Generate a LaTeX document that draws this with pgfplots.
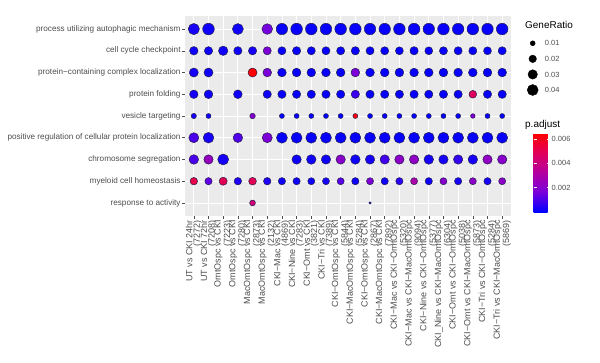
\documentclass[border=0pt]{standalone}
\usepackage{pgfplots}
\pgfplotsset{compat=1.18}
\usepackage{pgfplotstable}
\usepackage{fontspec}
\setmainfont{Liberation Sans}
\definecolor{axgrey}{HTML}{4D4D4D}
\definecolor{panel}{HTML}{EBEBEB}
\definecolor{dotedge}{HTML}{1E1E46}

\pgfplotstableread{
x y r p
1 9 0.042 0.0003
2 9 0.045 0.0002
4 9 0.040 0.0002
6 9 0.038 0.0016
7 9 0.043 0.0001
8 9 0.045 0.0001
9 9 0.045 0.0001
10 9 0.044 0.0001
11 9 0.045 0.0001
12 9 0.045 0.0001
13 9 0.044 0.0001
14 9 0.044 0.0001
15 9 0.045 0.0001
16 9 0.045 0.0001
17 9 0.044 0.0001
18 9 0.045 0.0001
19 9 0.044 0.0001
20 9 0.045 0.0001
21 9 0.044 0.0001
22 9 0.045 0.0001
1 8 0.025 0.0002
2 8 0.024 0.0002
3 8 0.030 0.0002
4 8 0.024 0.0002
5 8 0.024 0.0003
6 8 0.023 0.0018
7 8 0.023 0.0001
8 8 0.024 0.0001
9 8 0.023 0.0001
10 8 0.023 0.0001
11 8 0.023 0.0001
12 8 0.024 0.0001
13 8 0.023 0.0001
14 8 0.023 0.0001
15 8 0.022 0.0001
16 8 0.024 0.0001
17 8 0.022 0.0001
18 8 0.023 0.0001
19 8 0.023 0.0001
20 8 0.023 0.0001
21 8 0.022 0.0001
22 8 0.023 0.0001
1 7 0.028 0.0003
2 7 0.028 0.0002
5 7 0.028 0.0065
6 7 0.026 0.0017
7 7 0.026 0.0001
8 7 0.026 0.0001
9 7 0.026 0.0001
10 7 0.026 0.0001
11 7 0.026 0.0001
12 7 0.026 0.0018
13 7 0.026 0.0001
14 7 0.026 0.0001
15 7 0.026 0.0001
16 7 0.026 0.0001
17 7 0.026 0.0001
18 7 0.026 0.0001
19 7 0.026 0.0001
20 7 0.026 0.0001
21 7 0.026 0.0001
22 7 0.026 0.0001
1 6 0.025 0.0003
2 6 0.026 0.0002
4 6 0.026 0.0002
6 6 0.024 0.0002
7 6 0.024 0.0001
8 6 0.024 0.0001
9 6 0.024 0.0001
10 6 0.024 0.0001
11 6 0.024 0.0001
12 6 0.024 0.0008
13 6 0.024 0.0001
14 6 0.024 0.0001
15 6 0.024 0.0001
16 6 0.024 0.0001
17 6 0.024 0.0001
18 6 0.024 0.0001
19 6 0.024 0.0001
20 6 0.021 0.0048
21 6 0.024 0.0001
22 6 0.024 0.0001
1 5 0.011 0.0003
2 5 0.010 0.0002
5 5 0.012 0.0020
7 5 0.010 0.0001
8 5 0.010 0.0001
9 5 0.010 0.0001
10 5 0.010 0.0001
11 5 0.010 0.0001
12 5 0.010 0.0062
13 5 0.010 0.0001
14 5 0.010 0.0001
15 5 0.010 0.0001
16 5 0.010 0.0001
17 5 0.010 0.0001
18 5 0.010 0.0001
19 5 0.010 0.0001
20 5 0.009 0.0019
21 5 0.010 0.0001
22 5 0.010 0.0001
1 4 0.034 0.0010
2 4 0.038 0.0003
4 4 0.031 0.0011
6 4 0.034 0.0018
7 4 0.040 0.0001
8 4 0.040 0.0001
9 4 0.040 0.0001
10 4 0.040 0.0001
11 4 0.040 0.0001
12 4 0.040 0.0001
13 4 0.040 0.0001
14 4 0.040 0.0001
15 4 0.040 0.0001
16 4 0.040 0.0001
17 4 0.040 0.0001
18 4 0.040 0.0001
19 4 0.040 0.0001
20 4 0.040 0.0001
21 4 0.040 0.0001
22 4 0.040 0.0001
1 3 0.031 0.0010
2 3 0.030 0.0024
3 3 0.040 0.0003
8 3 0.030 0.0002
9 3 0.031 0.0002
10 3 0.030 0.0002
11 3 0.030 0.0021
12 3 0.031 0.0002
13 3 0.030 0.0003
14 3 0.030 0.0009
15 3 0.030 0.0022
16 3 0.030 0.0023
17 3 0.031 0.0003
18 3 0.030 0.0003
19 3 0.030 0.0007
20 3 0.031 0.0003
21 3 0.030 0.0023
22 3 0.030 0.0021
1 2 0.020 0.0052
2 2 0.019 0.0013
3 2 0.023 0.0050
4 2 0.020 0.0004
5 2 0.021 0.0050
6 2 0.020 0.0004
7 2 0.019 0.0002
8 2 0.019 0.0002
9 2 0.018 0.0002
10 2 0.018 0.0003
11 2 0.018 0.0012
12 2 0.019 0.0002
13 2 0.018 0.0018
14 2 0.019 0.0002
15 2 0.019 0.0006
16 2 0.018 0.0030
17 2 0.019 0.0002
18 2 0.018 0.0020
19 2 0.019 0.0003
20 2 0.018 0.0022
21 2 0.019 0.0003
22 2 0.018 0.0022
5 1 0.013 0.0042
13 1 0.004 0.0001
}\dotdata

\begin{document}
\begin{tikzpicture}
\begin{axis}[
  name=main,
  at={(185bp,147bp)}, anchor=south west,
  scale only axis, width=326bp, height=200bp,
  xmin=0.4, xmax=22.6, ymin=0.4, ymax=9.6,
  axis background/.style={fill=panel},
  axis line style={draw=none},
  xtick={1,...,22}, ytick={1,...,9},
  xticklabels={
    {UT vs CKI 24hr\\(7272)},
    {UT vs CKI 72hr\\(7208)},
    {OmtOspc vs CKI\\(7223)},
    {OmtOspc vs CKI\\(7280)},
    {MacOmtOspc vs CKI\\(2873)},
    {MacOmtOspc vs CKI\\(2132)},
    {CKI−Mac vs CKI\\(4869)},
    {CKI−Nine vs CKI\\(7283)},
    {CKI−Omt vs CKI\\(3821)},
    {CKI−Tri vs CKI\\(7389)},
    {CKI−OmtOspc vs CKI\\(5844)},
    {CKI−MacOmtOspc vs CKI\\(5284)},
    {CKI−OmtOspc vs CKI\\(2867)},
    {CKI−MacOmtOspc vs CKI\\(7892)},
    {CKI−Mac vs CKI−OmtOspc\\(5320)},
    {CKI−Mac vs CKI−MacOmtOspc\\(9094)},
    {CKI−Nine vs CKI−OmtOspc\\(5377)},
    {CKI\_Nine vs CKI−MacOmtOspc\\(6304)},
    {CKI−Omt vs CKI−OmtOspc\\(5038)},
    {CKI−Omt vs CKI−MacOmtOspc\\(5873)},
    {CKI−Tri vs CKI−OmtOspc\\(5284)},
    {CKI−Tri vs CKI−MacOmtOspc\\(5869)}},
  yticklabels={response to activity, myeloid cell homeostasis, chromosome segregation,
    positive regulation of cellular protein localization, vesicle targeting, protein folding,
    protein−containing complex localization, cell cycle checkpoint,
    process utilizing autophagic mechanism},
  xmajorgrids, ymajorgrids,
  major grid style={white, line width=0.8pt},
  tick align=outside, major tick length=2.75bp,
  tick style={axgrey, line width=0.5pt},
  xtick pos=bottom, ytick pos=left,
  yticklabel style={font=\fontsize{8.2}{8.2}\selectfont, text=axgrey, inner sep=1.5bp},
  xticklabel style={rotate=90, anchor=east, align=right,
    font=\fontsize{9}{7.5}\selectfont, text=axgrey, inner sep=1.5bp},
  colormap={gg}{rgb255(0cm)=(0,0,255); rgb255(1cm)=(120,0,220); rgb255(2cm)=(180,0,160); rgb255(3cm)=(225,0,90); rgb255(4cm)=(255,0,0)},
  point meta min=0, point meta max=0.0065,
  colorbar,
  colorbar style={
    at={(parent axis.north east)}, anchor=north west,
    xshift=14bp, yshift=-117bp,
    scale only axis, width=16bp, height=79bp,
    axis line style={draw=none},
    ytick={0.002,0.004,0.006},
    scaled y ticks=false,
    ytick pos=both, yticklabel pos=right,
    tick align=inside, major tick length=3bp,
    tick style={white, line width=0.6pt},
    yticklabel style={font=\fontsize{7.5}{7.5}\selectfont, text=axgrey, inner sep=2bp,
      /pgf/number format/.cd, fixed, fixed zerofill, precision=3, assume math mode=true},
  },
  clip=false,
]
\addplot[scatter, only marks, mark=*, point meta=explicit,
  scatter/use mapped color={draw=dotedge, fill=mapped color},
  visualization depends on={0.5*sqrt(3200*\thisrow{r}-7) \as \rad},
  scatter/@pre marker code/.append style={/tikz/mark size=\rad},
  mark options={line width=0.45pt}]
  table[x=x, y=y, meta=p] {\dotdata};
\end{axis}

\begin{axis}[
  at={(522.7bp,265.2bp)}, anchor=south west,
  scale only axis, width=20bp, height=62.3bp,
  xmin=0, xmax=1, ymin=0.5, ymax=4.5,
  axis line style={draw=none},
  xtick=\empty, ytick={1,2,3,4},
  yticklabels={0.04,0.03,0.02,0.01},
  yticklabel pos=right, ytick pos=right, major tick length=0pt,
  yticklabel style={font=\fontsize{7.5}{7.5}\selectfont, text=axgrey, inner sep=2bp},
  clip=false,
]
\addplot[only marks, mark=*, black, mark size=2.5bp] coordinates {(0.5,4)};
\addplot[only marks, mark=*, black, mark size=3.78bp] coordinates {(0.5,3)};
\addplot[only marks, mark=*, black, mark size=4.72bp] coordinates {(0.5,2)};
\addplot[only marks, mark=*, black, mark size=5.5bp] coordinates {(0.5,1)};
\end{axis}

\node[anchor=base west, inner sep=0pt, font=\fontsize{10}{10}\selectfont] at (525bp,334.7bp) {GeneRatio};
\node[anchor=base west, inner sep=0pt, font=\fontsize{10}{10}\selectfont] at (525bp,235.7bp) {p.adjust};

\pgfresetboundingbox
\path (0,0) rectangle (600bp,363bp);
\end{tikzpicture}
\end{document}
